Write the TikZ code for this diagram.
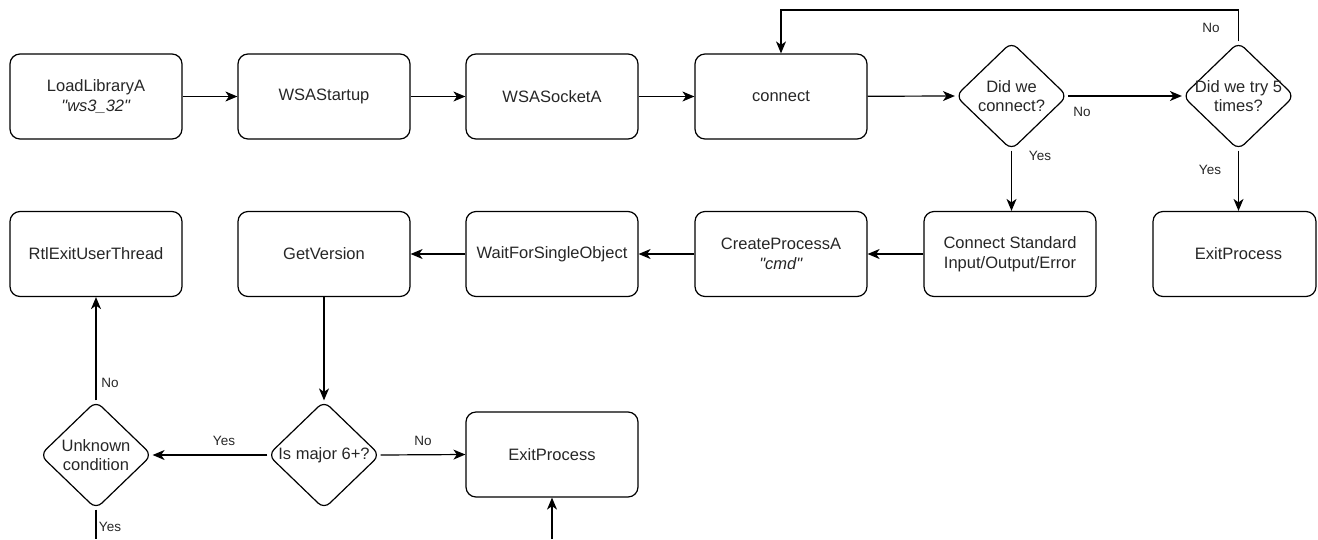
\documentclass[tikz,border=0pt]{standalone}
\usepackage{fontspec}
\setmainfont{Liberation Sans}
\usetikzlibrary{shapes.geometric,arrows.meta}
\begin{document}
\begin{tikzpicture}[x=1pt,y=-1pt,
  box/.style={draw, line width=1.2pt, rounded corners=10pt, minimum width=172pt, minimum height=85pt, inner sep=0pt, align=center, font=\fontsize{16.5}{19.5}\selectfont, text=black!85},
  dia/.style={draw, line width=1.2pt, diamond, rounded corners=8pt, minimum width=112pt, minimum height=108pt, inner sep=0pt},
  dtext/.style={align=center, font=\fontsize{16.5}{19.5}\selectfont, text=black!85, inner sep=0pt},
  arr/.style={line width=1.2pt, -{Stealth[length=12pt,width=10pt,inset=3.5pt]}},
  ln/.style={line width=1.2pt},
  lab/.style={font=\fontsize{13.5}{16}\selectfont, text=black!85, inner sep=0pt}]
\useasboundingbox (0,0) rectangle (1318,539);
% row 1
\node[box] (ll) at (96,96.5) {LoadLibraryA\\\textit{\textquotedbl ws3\_32\textquotedbl}};
\node[box] (wsa) at (324,96.5) {WSAStartup};
\node[box] (sock) at (552,96.5) {WSASocketA};
\node[box] (conn) at (781,96.5) {connect};
\node[dia, label={[dtext]center:Did we\\connect?}] (d1) at (1011.5,96) {};
\node[dia, label={[dtext]center:Did we try 5\\times?}] (d2) at (1238.5,96) {};
\coordinate (top) at (0,10);
% row 2
\node[box] (rtl) at (96,254) {RtlExitUserThread};
\node[box] (gv) at (324,254) {GetVersion};
\node[box] (wait) at (552,254) {WaitForSingleObject};
\node[box] (cp) at (781,254) {CreateProcessA\\\textit{\textquotedbl cmd\textquotedbl}};
\node[box] (cs) at (1010,254) {Connect Standard\\Input/Output/Error};
\node[box, minimum width=163pt] (ep1) at (1234.5,254) {};
\node[dtext] at (1238.5,254) {ExitProcess};
% row 3
\node[dia, label={[dtext]center:Unknown\\condition}] (unk) at (96,455) {};
\node[dia, label={[dtext]center:Is major 6+?}] (maj) at (324,455) {};
\node[box] (ep2) at (552,454.5) {ExitProcess};
\coordinate (ubot) at (96,539);
\coordinate (ebot) at (552,539);
% connectors
\draw[arr] (ll) -- (wsa);
\draw[arr] (wsa) -- (sock);
\draw[arr] (sock) -- (conn);
\draw[arr] (conn) -- (d1.west);
\draw[arr] (d1.east) -- (d2.west);
\draw[arr] (d2.north) -- (d2.north |- top) -| (conn.north);
\draw[arr] (d1.south) -- (cs.north -| d1.south);
\draw[arr] (d2.south) -- (ep1.north -| d2.south);
\draw[arr] (cs) -- (cp);
\draw[arr] (cp) -- (wait);
\draw[arr] (wait) -- (gv);
\draw[arr] (gv) -- (maj.north);
\draw[arr] (maj.west) -- (unk.east);
\draw[arr] (maj.east) -- (ep2.west);
\draw[arr] (unk.north) -- (rtl.south);
\draw[ln] (unk.south) -- (ubot);
\draw[arr] (ebot) -- (ep2.south);
% labels
\node[lab] at (1211,28) {No};
\node[lab] at (1082,112) {No};
\node[lab] at (1040,156) {Yes};
\node[lab] at (1210,170) {Yes};
\node[lab] at (110,383) {No};
\node[lab] at (224,441) {Yes};
\node[lab] at (423,441) {No};
\node[lab] at (110,527) {Yes};
\end{tikzpicture}
\end{document}
